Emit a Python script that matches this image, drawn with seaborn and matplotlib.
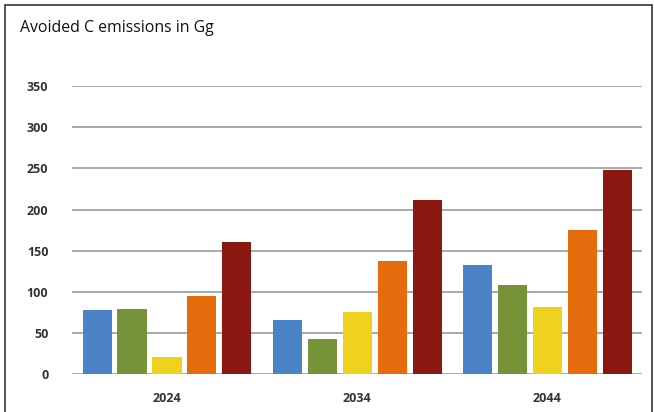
import pandas as pd
import matplotlib
matplotlib.use("Agg")
import matplotlib.pyplot as plt
import seaborn as sns
from matplotlib.patches import Rectangle

# Data
years = ["2024", "2034", "2044"]
series = ["A", "B", "C", "D", "E"]
values_a = [78, 66, 132]
values_b = [79, 43, 108]
values_c = [21, 76, 82]
values_d = [95, 138, 175]
values_e = [160, 211, 248]
colors = ["#4a84c6", "#76933a", "#eed21e", "#e46c0c", "#8a1710"]
y_ticks = [0, 50, 100, 150, 200, 250, 300, 350]

rows = []
for name, vals in zip(series, [values_a, values_b, values_c, values_d, values_e]):
    for year, v in zip(years, vals):
        rows.append({"year": year, "series": name, "value": v})
df = pd.DataFrame(rows)

sns.set_theme(style="white")
plt.rcParams["font.family"] = ["Open Sans", "DejaVu Sans"]

fig = plt.figure(figsize=(6.54, 4.12), dpi=100)
ax = fig.add_axes([0.110, 0.092, 0.872, 0.699])

sns.barplot(data=df, x="year", y="value", hue="series", order=years,
            hue_order=series, palette=colors, width=0.92, gap=0.17,
            saturation=1, legend=False, ax=ax, zorder=3, linewidth=0)

ax.set_ylim(0, 350)
ax.set_xlim(-0.5, 2.5)
ax.set_yticks(y_ticks)
ax.yaxis.grid(True, color="#a8a8a8", linewidth=1.4, zorder=0)
ax.set_axisbelow(True)
for s in ax.spines.values():
    s.set_visible(False)
ax.set_xlabel("")
ax.set_ylabel("")
ax.tick_params(axis="y", length=0, pad=17, labelsize=9, labelcolor="#333333")
ax.tick_params(axis="x", length=0, pad=13, labelsize=9, labelcolor="#333333")
for lab in ax.get_xticklabels() + ax.get_yticklabels():
    lab.set_fontweight("bold")

fig.text(20 / 654, 1 - 28 / 412, "Avoided C emissions in Gg", fontsize=11.4,
         color="#111111", va="center", ha="left")

# outer frame
fig.patches.append(Rectangle((5 / 654, -0.02), 647 / 654, 1 - 5 / 412 + 0.02,
                             transform=fig.transFigure, fill=False,
                             edgecolor="#333333", linewidth=1.2))

fig.savefig("out.png", dpi=100)
